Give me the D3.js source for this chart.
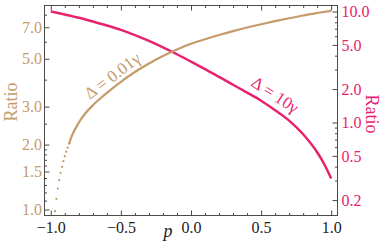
<!DOCTYPE html>
<html><head><meta charset="utf-8">
<script src="https://cdn.jsdelivr.net/npm/d3@7"></script>
<style>body{margin:0;background:#fff}svg{display:block}</style>
</head><body><svg id="c" width="382" height="245"></svg>
<script>
// ---- data ----
const pDots = [-0.97,-0.96,-0.95,-0.94,-0.93,-0.92,-0.91,-0.90,-0.89,-0.88,-0.87];
const tanDotValues = [0.982,1.121,1.251,1.368,1.480,1.578,1.676,1.768,1.853,1.935,2.019];
const pTan = [-0.87,-0.85,-0.8,-0.75,-0.7,-0.65,-0.6,-0.5,-0.4,-0.3,-0.2,-0.1,0,0.1,0.2,0.3,0.4,0.5,0.6,0.7,0.8,0.9,1.0];
const tanValues = [2.017,2.193,2.531,2.808,3.042,3.262,3.476,3.909,4.340,4.756,5.154,5.524,5.864,6.159,6.442,6.716,6.980,7.230,7.472,7.708,7.937,8.147,8.350];
const pPink = [-1.0,-0.9,-0.8,-0.7,-0.6,-0.5,-0.4,-0.3,-0.2,-0.1,0,0.1,0.2,0.3,0.4,0.5,0.6,0.7,0.8,0.9,0.95,1.0];
const pinkValues = [10.0,9.39,8.78,8.12,7.48,6.83,6.13,5.43,4.75,4.12,3.53,3.02,2.58,2.19,1.86,1.57,1.29,1.04,0.783,0.539,0.423,0.313];
const xTicks = [-1.0,-0.5,0.0,0.5,1.0];
const xMinor = [-0.9,-0.8,-0.7,-0.6,-0.4,-0.3,-0.2,-0.1,0.1,0.2,0.3,0.4,0.6,0.7,0.8,0.9];
const leftTicks = [1.0,1.5,2.0,3.0,5.0,7.0];
const leftMinor = [1.1,1.2,1.3,1.4,1.6,1.7,1.8,1.9,2.5,4,6,8];
const rightTicks = [0.2,0.5,1.0,2.0,5.0,10.0];
const rightMinor = [0.3,0.4,0.6,0.7,0.8,0.9,3,4,6,7,8,9];
const labelTan = "Δ = 0.01γ";
const labelPink = "Δ = 10γ";

const TAN = "#c59b6c", PINK = "#e8226f", FRAME = "#4a4a4a";
const FONT = '"Liberation Serif"';

const L = 44.5, R = 337.5, T = 5.5, B = 215.5;
const x = d3.scaleLinear().domain([-1.045, 1.045]).range([L, R]);
const yL = d3.scaleLog().domain([0.938, 8.83]).range([B, T]);
const yR = d3.scaleLog().domain([0.1452, 11.33]).range([B, T]);

const svg = d3.select("#c");
svg.append("defs").append("clipPath").attr("id","clip")
  .append("rect").attr("x",L).attr("y",T).attr("width",R-L).attr("height",B-T);

const fmt = d3.format(".1f");
function style(g, color){
  g.attr("font-family", null).attr("font-size", null);
  g.select(".domain").remove();
  g.selectAll(".tick line").attr("stroke", FRAME);
  g.selectAll("text").attr("fill", color).style("font-family", FONT).style("font-size","16px");
}
// bottom axis
svg.append("g").attr("transform",`translate(0,${B})`)
  .call(d3.axisBottom(x).tickValues(xTicks).tickFormat(fmt).tickSizeInner(-5).tickSizeOuter(0).tickPadding(6))
  .call(g=>style(g,"#222"));
svg.append("g").attr("transform",`translate(0,${B})`)
  .call(d3.axisBottom(x).tickValues(xMinor).tickFormat("").tickSizeInner(-2.5).tickSizeOuter(0))
  .call(g=>style(g,"#222"));
// top axis
svg.append("g").attr("transform",`translate(0,${T})`)
  .call(d3.axisTop(x).tickValues(xTicks).tickFormat("").tickSizeInner(-5).tickSizeOuter(0))
  .call(g=>style(g,"#222"));
svg.append("g").attr("transform",`translate(0,${T})`)
  .call(d3.axisTop(x).tickValues(xMinor).tickFormat("").tickSizeInner(-2.5).tickSizeOuter(0))
  .call(g=>style(g,"#222"));
// left axis
svg.append("g").attr("transform",`translate(${L},0)`)
  .call(d3.axisLeft(yL).tickValues(leftTicks).tickFormat(fmt).tickSizeInner(-5).tickSizeOuter(0).tickPadding(2.5))
  .call(g=>style(g,TAN));
svg.append("g").attr("transform",`translate(${L},0)`)
  .call(d3.axisLeft(yL).tickValues(leftMinor).tickFormat("").tickSizeInner(-2.5).tickSizeOuter(0))
  .call(g=>style(g,TAN));
// right axis
svg.append("g").attr("transform",`translate(${R},0)`)
  .call(d3.axisRight(yR).tickValues(rightTicks).tickFormat(fmt).tickSizeInner(-5).tickSizeOuter(0).tickPadding(4))
  .call(g=>style(g,PINK));
svg.append("g").attr("transform",`translate(${R},0)`)
  .call(d3.axisRight(yR).tickValues(rightMinor).tickFormat("").tickSizeInner(-2.5).tickSizeOuter(0))
  .call(g=>style(g,PINK));

// frame
svg.append("rect").attr("x",L).attr("y",T).attr("width",R-L).attr("height",B-T)
  .attr("fill","none").attr("stroke",FRAME).attr("stroke-width",1);

const plot = svg.append("g").attr("clip-path","url(#clip)");
// pink line (right axis)
plot.append("path")
  .datum(pPink.map((p,i)=>[p,pinkValues[i]]))
  .attr("fill","none").attr("stroke",PINK).attr("stroke-width",2.5)
  .attr("d", d3.line().x(d=>x(d[0])).y(d=>yR(d[1])).curve(d3.curveMonotoneX));
// tan line (left axis)
plot.append("path")
  .datum(pTan.map((p,i)=>[p,tanValues[i]]))
  .attr("fill","none").attr("stroke",TAN).attr("stroke-width",2.2)
  .attr("d", d3.line().x(d=>x(d[0])).y(d=>yL(d[1])).curve(d3.curveMonotoneX));
plot.selectAll("circle.dot").data(pDots.map((p,i)=>[p,tanDotValues[i]])).join("circle")
  .attr("class","dot").attr("cx",d=>x(d[0])).attr("cy",d=>yL(d[1])).attr("r",1.15).attr("fill",TAN);

// curve labels
svg.append("text").text(labelTan).attr("transform","translate(112.5,76) rotate(-37)")
  .attr("text-anchor","middle").attr("dominant-baseline","central")
  .attr("fill",TAN).style("font-family",FONT).style("font-size","17px");
svg.append("text").text(labelPink).attr("transform","translate(275,95) rotate(33)")
  .attr("text-anchor","middle").attr("dominant-baseline","central")
  .attr("fill",PINK).style("font-family",FONT).style("font-size","17px");

// axis titles
svg.append("text").text("Ratio").attr("transform","translate(17,102) rotate(-90)")
  .attr("text-anchor","middle").attr("fill",TAN).style("font-family",FONT).style("font-size","18px");
svg.append("text").text("Ratio").attr("transform","translate(366,114) rotate(90)")
  .attr("text-anchor","middle").attr("fill",PINK).style("font-family",FONT).style("font-size","18px");
svg.append("text").text("p").attr("x",168).attr("y",237)
  .attr("text-anchor","middle").attr("fill","#222").style("font-family",FONT)
  .style("font-style","italic").style("font-size","18px");
</script></body></html>
